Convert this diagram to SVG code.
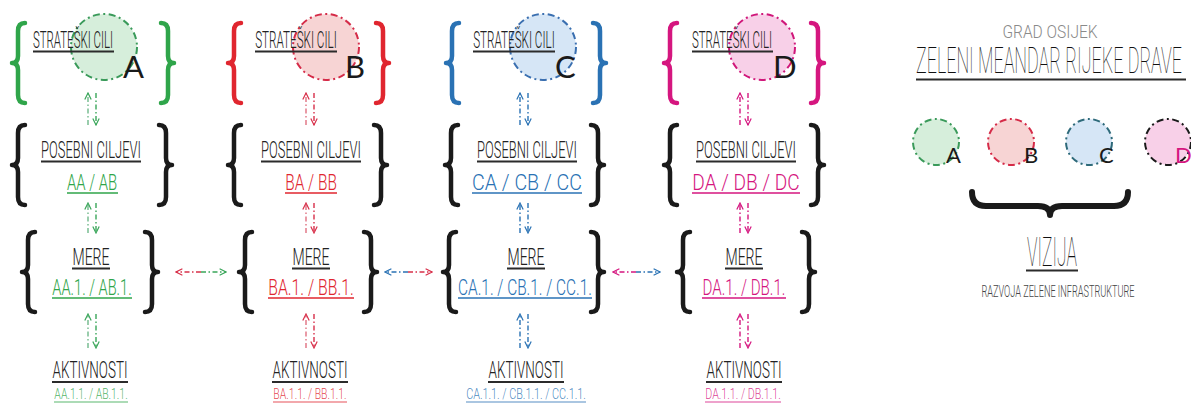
<svg xmlns="http://www.w3.org/2000/svg" width="1191" height="412" viewBox="0 0 1191 412">
  <style>
    .t { font-family: Roboto, "Liberation Sans", sans-serif; font-weight: 300; fill: #222222; text-anchor: middle; }
    .thin { font-weight: 100; fill: #111111; }
    .h { font-size: 23px; }
    .s { font-size: 22px; }
    .xs { font-size: 15px; }
    .big { font-family: Lato, "Noto Sans", sans-serif; font-weight: 400; font-size: 31px; fill: #1a1a1a; }
    .lg { font-size: 22px; }
    .ul { stroke: #2b2b2b; stroke-width: 2.2; }
    .brace { fill: none; stroke-width: 4.5; stroke-linecap: round; stroke-linejoin: round; }
    .blk { stroke: #1a1a1a; }
    .arr { fill: none; stroke-width: 1.4; stroke-dasharray: 5 2.5 1.5 2.5; }
    .ring { stroke-width: 2; stroke-dasharray: 7 3.5 2 3.5; }
    .ga { fill: #2fa54a; } .gs { stroke: #2fa54a; }
    .ra { fill: #e0262f; } .rs { stroke: #e0262f; }
    .ba { fill: #2a72b4; } .bs { stroke: #2a72b4; }
    .ma { fill: #d5167f; } .ms { stroke: #d5167f; }
    .soft { fill-opacity: 0.85; }
  </style>
  <defs>
    <path id="braceL" d="M13 0 Q6 0 6 8 L6 33 Q6 40 0 40 Q6 40 6 47 L6 72 Q6 80 13 80"/>
    <path id="braceH" d="M0 -2 Q0 12 14 12 L66 12 Q78 12 78 21 Q78 12 90 12 L142 12 Q156 12 156 -2"/>
    <marker id="mg" viewBox="0 0 10 10" refX="9" refY="5" markerWidth="8" markerHeight="8" orient="auto" markerUnits="userSpaceOnUse"><path d="M1 1 L9 5 L1 9" fill="none" stroke="#3aa65a" stroke-width="1.5"/></marker>
    <marker id="mr" viewBox="0 0 10 10" refX="9" refY="5" markerWidth="8" markerHeight="8" orient="auto" markerUnits="userSpaceOnUse"><path d="M1 1 L9 5 L1 9" fill="none" stroke="#d8304a" stroke-width="1.5"/></marker>
    <marker id="mb" viewBox="0 0 10 10" refX="9" refY="5" markerWidth="8" markerHeight="8" orient="auto" markerUnits="userSpaceOnUse"><path d="M1 1 L9 5 L1 9" fill="none" stroke="#2a72b4" stroke-width="1.5"/></marker>
    <marker id="mm" viewBox="0 0 10 10" refX="9" refY="5" markerWidth="8" markerHeight="8" orient="auto" markerUnits="userSpaceOnUse"><path d="M1 1 L9 5 L1 9" fill="none" stroke="#d5167f" stroke-width="1.5"/></marker>
  </defs>

  <rect width="1191" height="412" fill="#ffffff"/>

  <!-- column A -->
  <g id="col-a">
    <circle cx="104" cy="47" r="33" fill="#d6eedb" stroke="#3a9a5a" class="ring"/>
    <use href="#braceL" class="brace gs" transform="translate(12,23)"/>
    <use href="#braceL" class="brace gs" transform="translate(174,23) scale(-1,1)"/>
    <text class="t h" transform="translate(73,48) scale(0.51,1)" textLength="157" lengthAdjust="spacingAndGlyphs">STRATEŠKI CILI</text>
    <line x1="33" y1="51.5" x2="114" y2="51.5" class="ul"/>
    <text x="123" y="78" class="big">A</text>

    <use href="#braceL" class="brace blk" transform="translate(12,125)"/>
    <use href="#braceL" class="brace blk" transform="translate(172,125) scale(-1,1)"/>
    <text class="t h" transform="translate(91,158) scale(0.58,1)" textLength="172" lengthAdjust="spacingAndGlyphs">POSEBNI CILJEVI</text>
    <line x1="41" y1="161.5" x2="141" y2="161.5" class="ul"/>
    <text class="t s ga" transform="translate(92,190) scale(0.66,1)" textLength="76" lengthAdjust="spacingAndGlyphs">AA / AB</text>
    <line x1="67" y1="193" x2="118" y2="193" class="gs" stroke-width="1.6"/>

    <use href="#braceL" class="brace blk" transform="translate(22,232)"/>
    <use href="#braceL" class="brace blk" transform="translate(158,232) scale(-1,1)"/>
    <text class="t h" transform="translate(91,265) scale(0.65,1)" textLength="57" lengthAdjust="spacingAndGlyphs">MERE</text>
    <line x1="72" y1="268.5" x2="110" y2="268.5" class="ul"/>
    <text class="t s ga" transform="translate(92,295) scale(0.65,1)" textLength="122" lengthAdjust="spacingAndGlyphs">AA.1. / AB.1.</text>
    <line x1="52" y1="298" x2="132" y2="298" class="gs" stroke-width="1.6"/>

    <text class="t h" transform="translate(90,378) scale(0.6,1)" textLength="125" lengthAdjust="spacingAndGlyphs">AKTIVNOSTI</text>
    <line x1="52" y1="382" x2="128" y2="382" class="ul" stroke-width="2.6"/>
    <text class="t xs ga soft" transform="translate(91,399) scale(0.66,1)" textLength="111" lengthAdjust="spacingAndGlyphs">AA.1.1. / AB.1.1.</text>
    <line x1="54" y1="402" x2="128" y2="402" class="gs" stroke-width="1" stroke-opacity="0.8"/>
  </g>

  <!-- column B -->
  <g id="col-b">
    <circle cx="326" cy="47" r="33" fill="#f7d4d4" stroke="#d52b48" class="ring"/>
    <use href="#braceL" class="brace rs" transform="translate(228,23)"/>
    <use href="#braceL" class="brace rs" transform="translate(389,23) scale(-1,1)"/>
    <text class="t h" transform="translate(296,48) scale(0.52,1)" textLength="157" lengthAdjust="spacingAndGlyphs">STRATEŠKI CILI</text>
    <line x1="255" y1="51.5" x2="337" y2="51.5" class="ul"/>
    <text x="345" y="78" class="big">B</text>

    <use href="#braceL" class="brace blk" transform="translate(228,125)"/>
    <use href="#braceL" class="brace blk" transform="translate(387,125) scale(-1,1)"/>
    <text class="t h" transform="translate(311,158) scale(0.58,1)" textLength="172" lengthAdjust="spacingAndGlyphs">POSEBNI CILJEVI</text>
    <line x1="261" y1="161.5" x2="361" y2="161.5" class="ul"/>
    <text class="t s ra" transform="translate(311,190) scale(0.68,1)" textLength="76" lengthAdjust="spacingAndGlyphs">BA / BB</text>
    <line x1="285" y1="193" x2="337" y2="193" class="rs" stroke-width="1.6"/>

    <use href="#braceL" class="brace blk" transform="translate(239,232)"/>
    <use href="#braceL" class="brace blk" transform="translate(377,232) scale(-1,1)"/>
    <text class="t h" transform="translate(311,265) scale(0.65,1)" textLength="57" lengthAdjust="spacingAndGlyphs">MERE</text>
    <line x1="292" y1="268.5" x2="330" y2="268.5" class="ul"/>
    <text class="t s ra" transform="translate(311,295) scale(0.7,1)" textLength="122" lengthAdjust="spacingAndGlyphs">BA.1. / BB.1.</text>
    <line x1="268" y1="298" x2="354" y2="298" class="rs" stroke-width="1.6"/>

    <text class="t h" transform="translate(310,378) scale(0.6,1)" textLength="125" lengthAdjust="spacingAndGlyphs">AKTIVNOSTI</text>
    <line x1="272" y1="382" x2="348" y2="382" class="ul" stroke-width="2.6"/>
    <text class="t xs ra soft" transform="translate(310,399) scale(0.66,1)" textLength="111" lengthAdjust="spacingAndGlyphs">BA.1.1. / BB.1.1.</text>
    <line x1="273" y1="402" x2="347" y2="402" class="rs" stroke-width="1" stroke-opacity="0.8"/>
  </g>

  <!-- column C -->
  <g id="col-c">
    <circle cx="543" cy="47" r="33" fill="#d6e6f6" stroke="#3a6fb0" class="ring"/>
    <use href="#braceL" class="brace bs" transform="translate(446,23)"/>
    <use href="#braceL" class="brace bs" transform="translate(606,23) scale(-1,1)"/>
    <text class="t h" transform="translate(514,48) scale(0.52,1)" textLength="157" lengthAdjust="spacingAndGlyphs">STRATEŠKI CILI</text>
    <line x1="473" y1="51.5" x2="555" y2="51.5" class="ul"/>
    <text x="555" y="78" class="big">C</text>

    <use href="#braceL" class="brace blk" transform="translate(445,125)"/>
    <use href="#braceL" class="brace blk" transform="translate(604,125) scale(-1,1)"/>
    <text class="t h" transform="translate(527,158) scale(0.58,1)" textLength="172" lengthAdjust="spacingAndGlyphs">POSEBNI CILJEVI</text>
    <line x1="477" y1="161.5" x2="577" y2="161.5" class="ul"/>
    <text class="t s ba" transform="translate(527,190) scale(0.9,1)" textLength="122" lengthAdjust="spacingAndGlyphs">CA / CB / CC</text>
    <line x1="472" y1="193" x2="582" y2="193" class="bs" stroke-width="1.6"/>

    <use href="#braceL" class="brace blk" transform="translate(443,232)"/>
    <use href="#braceL" class="brace blk" transform="translate(604,232) scale(-1,1)"/>
    <text class="t h" transform="translate(526,265) scale(0.65,1)" textLength="57" lengthAdjust="spacingAndGlyphs">MERE</text>
    <line x1="507" y1="268.5" x2="545" y2="268.5" class="ul"/>
    <text class="t s ba" transform="translate(525,295) scale(0.69,1)" textLength="194" lengthAdjust="spacingAndGlyphs">CA.1. / CB.1. / CC.1.</text>
    <line x1="458" y1="298" x2="592" y2="298" class="bs" stroke-width="1.6"/>

    <text class="t h" transform="translate(526,378) scale(0.6,1)" textLength="125" lengthAdjust="spacingAndGlyphs">AKTIVNOSTI</text>
    <line x1="488" y1="382" x2="564" y2="382" class="ul" stroke-width="2.6"/>
    <text class="t xs ba soft" transform="translate(526,399) scale(0.7,1)" textLength="171" lengthAdjust="spacingAndGlyphs">CA.1.1. / CB.1.1. / CC.1.1.</text>
    <line x1="466" y1="402" x2="586" y2="402" class="bs" stroke-width="1" stroke-opacity="0.8"/>
  </g>

  <!-- column D -->
  <g id="col-d">
    <circle cx="762" cy="47" r="33" fill="#f8d0e8" stroke="#d0177a" class="ring"/>
    <use href="#braceL" class="brace ms" transform="translate(664,23)"/>
    <use href="#braceL" class="brace ms" transform="translate(824,23) scale(-1,1)"/>
    <text class="t h" transform="translate(732,48) scale(0.51,1)" textLength="157" lengthAdjust="spacingAndGlyphs">STRATEŠKI CILI</text>
    <line x1="692" y1="51.5" x2="773" y2="51.5" class="ul"/>
    <text x="773" y="78" class="big">D</text>

    <use href="#braceL" class="brace blk" transform="translate(664,125)"/>
    <use href="#braceL" class="brace blk" transform="translate(824,125) scale(-1,1)"/>
    <text class="t h" transform="translate(746,158) scale(0.58,1)" textLength="172" lengthAdjust="spacingAndGlyphs">POSEBNI CILJEVI</text>
    <line x1="696" y1="161.5" x2="796" y2="161.5" class="ul"/>
    <text class="t s ma" transform="translate(746,190) scale(0.88,1)" textLength="122" lengthAdjust="spacingAndGlyphs">DA / DB / DC</text>
    <line x1="692" y1="193" x2="800" y2="193" class="ms" stroke-width="1.6"/>

    <use href="#braceL" class="brace blk" transform="translate(677,232)"/>
    <use href="#braceL" class="brace blk" transform="translate(815,232) scale(-1,1)"/>
    <text class="t h" transform="translate(744,265) scale(0.65,1)" textLength="57" lengthAdjust="spacingAndGlyphs">MERE</text>
    <line x1="725" y1="268.5" x2="763" y2="268.5" class="ul"/>
    <text class="t s ma" transform="translate(744,295) scale(0.68,1)" textLength="122" lengthAdjust="spacingAndGlyphs">DA.1. / DB.1.</text>
    <line x1="702" y1="298" x2="786" y2="298" class="ms" stroke-width="1.6"/>

    <text class="t h" transform="translate(744,378) scale(0.6,1)" textLength="125" lengthAdjust="spacingAndGlyphs">AKTIVNOSTI</text>
    <line x1="706" y1="382" x2="782" y2="382" class="ul" stroke-width="2.6"/>
    <text class="t xs ma soft" transform="translate(743,399) scale(0.68,1)" textLength="111" lengthAdjust="spacingAndGlyphs">DA.1.1. / DB.1.1.</text>
    <line x1="705" y1="402" x2="781" y2="402" class="ms" stroke-width="1" stroke-opacity="0.8"/>
  </g>

  <!-- connectors -->
  <g id="connectors">
    <!-- column A, vertical two-way links -->
    <line x1="88" y1="125" x2="88" y2="93" class="arr" stroke="#6fb88a" marker-end="url(#mg)"/>
    <line x1="96" y1="93" x2="96" y2="125" class="arr" stroke="#3aa65a" marker-end="url(#mg)"/>
    <line x1="88" y1="233" x2="88" y2="203" class="arr" stroke="#6fb88a" marker-end="url(#mg)"/>
    <line x1="96" y1="203" x2="96" y2="233" class="arr" stroke="#3aa65a" marker-end="url(#mg)"/>
    <line x1="88" y1="348" x2="88" y2="314" class="arr" stroke="#6fb88a" marker-end="url(#mg)"/>
    <line x1="96" y1="314" x2="96" y2="348" class="arr" stroke="#3aa65a" marker-end="url(#mg)"/>
    <!-- column B -->
    <line x1="306" y1="125" x2="306" y2="93" class="arr" stroke="#e07080" marker-end="url(#mr)"/>
    <line x1="314" y1="93" x2="314" y2="125" class="arr" stroke="#d8304a" marker-end="url(#mr)"/>
    <line x1="306" y1="233" x2="306" y2="203" class="arr" stroke="#e07080" marker-end="url(#mr)"/>
    <line x1="314" y1="203" x2="314" y2="233" class="arr" stroke="#d8304a" marker-end="url(#mr)"/>
    <line x1="306" y1="348" x2="306" y2="314" class="arr" stroke="#e07080" marker-end="url(#mr)"/>
    <line x1="314" y1="314" x2="314" y2="348" class="arr" stroke="#d8304a" marker-end="url(#mr)"/>
    <!-- column C -->
    <line x1="520" y1="125" x2="520" y2="93" class="arr" stroke="#2a72b4" marker-end="url(#mb)"/>
    <line x1="528" y1="93" x2="528" y2="125" class="arr" stroke="#2a72b4" marker-end="url(#mb)"/>
    <line x1="520" y1="233" x2="520" y2="203" class="arr" stroke="#2a72b4" marker-end="url(#mb)"/>
    <line x1="528" y1="203" x2="528" y2="233" class="arr" stroke="#2a72b4" marker-end="url(#mb)"/>
    <line x1="520" y1="348" x2="520" y2="314" class="arr" stroke="#2a72b4" marker-end="url(#mb)"/>
    <line x1="528" y1="314" x2="528" y2="348" class="arr" stroke="#2a72b4" marker-end="url(#mb)"/>
    <!-- column D -->
    <line x1="740" y1="125" x2="740" y2="93" class="arr" stroke="#d5167f" marker-end="url(#mm)"/>
    <line x1="748" y1="93" x2="748" y2="125" class="arr" stroke="#d5167f" marker-end="url(#mm)"/>
    <line x1="740" y1="233" x2="740" y2="203" class="arr" stroke="#d5167f" marker-end="url(#mm)"/>
    <line x1="748" y1="203" x2="748" y2="233" class="arr" stroke="#d5167f" marker-end="url(#mm)"/>
    <line x1="740" y1="348" x2="740" y2="314" class="arr" stroke="#d5167f" marker-end="url(#mm)"/>
    <line x1="748" y1="314" x2="748" y2="348" class="arr" stroke="#d5167f" marker-end="url(#mm)"/>
    <!-- horizontal links between MERE blocks -->
    <line x1="201" y1="272" x2="176" y2="272" class="arr" stroke="#d8304a" marker-end="url(#mr)"/>
    <line x1="201" y1="272" x2="226" y2="272" class="arr" stroke="#3aa65a" marker-end="url(#mg)"/>
    <line x1="408" y1="272" x2="385" y2="272" class="arr" stroke="#2a72b4" marker-end="url(#mb)"/>
    <line x1="408" y1="272" x2="432" y2="272" class="arr" stroke="#d8304a" marker-end="url(#mr)"/>
    <line x1="636" y1="272" x2="613" y2="272" class="arr" stroke="#d5167f" marker-end="url(#mm)"/>
    <line x1="636" y1="272" x2="660" y2="272" class="arr" stroke="#2a72b4" marker-end="url(#mb)"/>
  </g>

  <!-- title -->
  <g id="title">
    <text class="t" font-size="19" style="fill:#8a8a8a" transform="translate(1050,38) scale(0.8,1)" textLength="119" lengthAdjust="spacingAndGlyphs">GRAD OSIJEK</text>
    <text class="t thin" font-size="37" transform="translate(1049,73) scale(0.48,1)" textLength="554" lengthAdjust="spacingAndGlyphs">ZELENI MEANDAR RIJEKE DRAVE</text>
    <line x1="916" y1="79.5" x2="1186" y2="79.5" class="ul" stroke-width="3"/>
  </g>

  <!-- A-D legend -->
  <g id="legend">
    <circle cx="936" cy="142" r="23" fill="#d6eedb" stroke="#3a9a5a" class="ring"/>
    <text x="946" y="163" class="big lg">A</text>
    <circle cx="1011" cy="142" r="23" fill="#f7d4d4" stroke="#d52b48" class="ring"/>
    <text x="1024" y="163" class="big lg">B</text>
    <circle cx="1089" cy="142" r="23" fill="#d6e6f6" stroke="#2e6a7a" class="ring"/>
    <text x="1099" y="163" class="big lg">C</text>
    <circle cx="1168" cy="142" r="23" fill="#f8d0e8" stroke="#1a1a1a" class="ring"/>
    <text x="1175" y="163" class="big lg" style="fill:#d5167f">D</text>
  </g>

  <!-- vision -->
  <g id="vision">
    <use href="#braceH" class="brace blk" style="stroke-width:6" transform="translate(972,194)"/>
    <text class="t thin" font-size="40" transform="translate(1052,266) scale(0.43,1)" textLength="116" lengthAdjust="spacingAndGlyphs">VIZIJA</text>
    <line x1="1026" y1="270.5" x2="1078" y2="270.5" class="ul" stroke-width="2.6"/>
    <text class="t" font-size="16" style="fill:#444" transform="translate(1058,297) scale(0.62,1)" textLength="247" lengthAdjust="spacingAndGlyphs">RAZVOJA ZELENE INFRASTRUKTURE</text>
  </g>
</svg>
